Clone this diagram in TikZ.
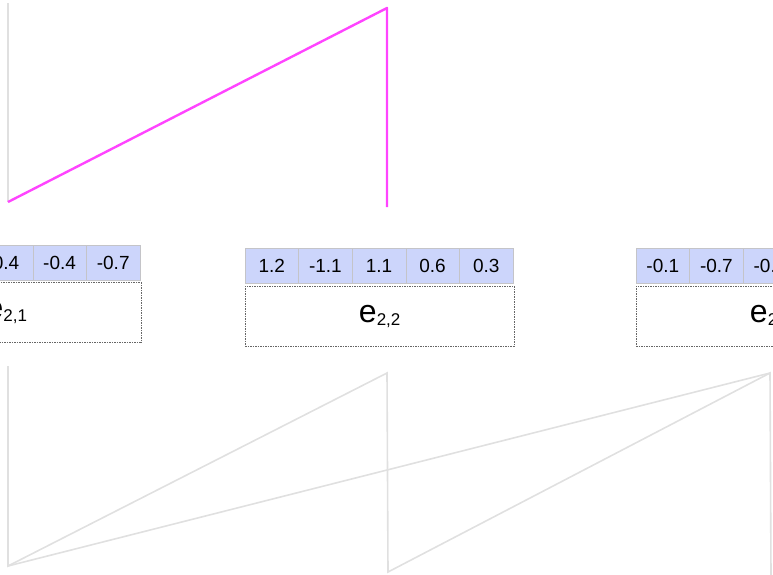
\documentclass[tikz,border=0pt]{standalone}
\usepackage{fontspec}
\setmainfont{Liberation Sans}
\usetikzlibrary{positioning}
\definecolor{cellblue}{HTML}{CCD5FB}
\definecolor{cellline}{HTML}{C4C4C8}
\definecolor{faintgrey}{HTML}{E0E0E0}
\definecolor{hotpink}{HTML}{FF44FF}
\tikzset{cell/.style={draw=cellline,fill=cellblue,minimum width=53.6pt,minimum height=35pt,inner sep=0pt,font=\fontsize{19}{19}\selectfont},
  embbox/.style={draw=black!60,dash pattern=on 1.5pt off 1pt,minimum width=269pt,minimum height=60pt,inner sep=0pt,font=\fontsize{32}{32}\selectfont},
  faint/.style={draw=faintgrey,line width=1.6pt},
  active/.style={draw=hotpink,line width=2.4pt,line join=round}}
\newcommand{\emb}[1]{e\raisebox{-3pt}{\fontsize{17}{17}\selectfont#1}}

\begin{document}
\begin{tikzpicture}[x=1pt,y=-1pt]
\useasboundingbox (0,0) rectangle (773,574);
% value rows and embedding boxes
\foreach \v [count=\i] in {0.4,-0.4,-0.7}
  \node[cell] (l\i) at (-20.8+26.8+53.6*\i-53.6,262.5) {\v};
\node[embbox,anchor=north east] (el) at (141,282) {\emb{2,1}};
\foreach \v [count=\i] in {1.2,-1.1,1.1,0.6,0.3}
  \node[cell] (m\i) at (245+26.8+53.6*\i-53.6,265.5) {\v};
\node[embbox,anchor=north west] (em) at (245,286) {\emb{2,2}};
\foreach \v [count=\i] in {-0.1,-0.7,-0.2}
  \node[cell] (r\i) at (636+26.8+53.6*\i-53.6,265.5) {\v};
\node[embbox,anchor=north west] (er) at (636,286) {\emb{2,3}};
% upper layer
\coordinate (ua) at (8,3);\coordinate (ub) at (8,202);
\coordinate (uc) at (387,8);\coordinate (ud) at (387,207);
\draw[faint] (ua)--(ub);
\draw[active] (ub)--(uc)--(ud);
% lower layer
\coordinate (la) at (8,366);\coordinate (lb) at (8,566);
\coordinate (lc) at (387,373);\coordinate (ld) at (388,572);
\coordinate (le) at (770,373);\coordinate (lf) at (771,576);
\draw[faint] (la)--(lb)--(lc)--(ld)--(le)--(lf);
\draw[faint] (lb)--(le);
\end{tikzpicture}
\end{document}
